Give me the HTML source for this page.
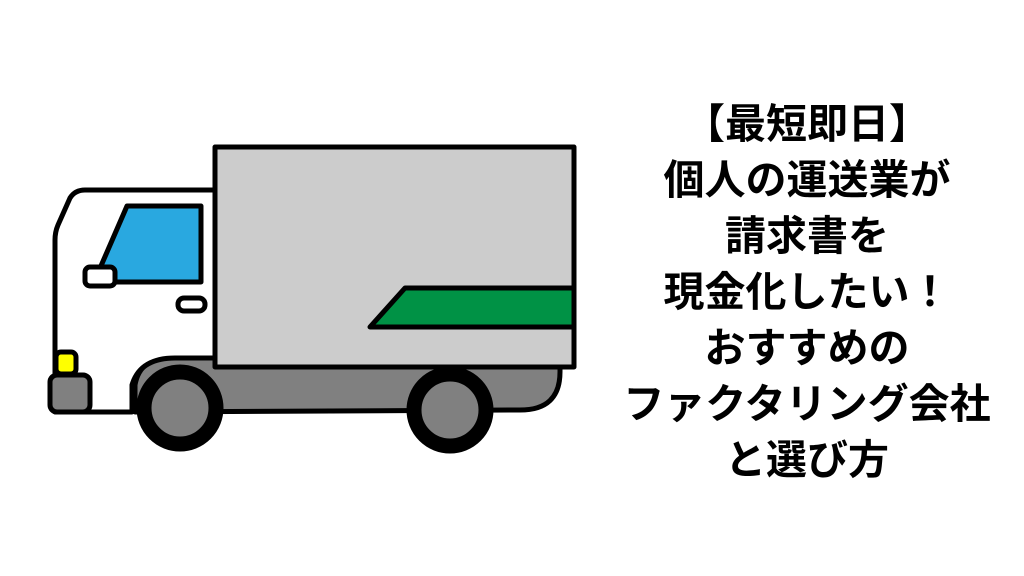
<!DOCTYPE html>
<html><head><meta charset="utf-8"><style>
body{margin:0;width:1024px;height:576px;background:#fff;position:relative;overflow:hidden}
.t{position:absolute;left:557px;width:500px;top:96px;text-align:center;font-family:"Liberation Sans","Noto Sans CJK JP",sans-serif;font-weight:bold;font-size:41px;line-height:56px;color:#000;letter-spacing:0px}
svg{position:absolute;left:0;top:0}
</style></head><body>
<svg width="1024" height="576" viewBox="0 0 1024 576">
<g stroke="#000" stroke-width="5" stroke-linejoin="round">
<path d="M135 412 L135 385 Q140 356 175 356 L560 356 L560 372 Q560 410 520 410 Z" fill="#808080"/>
<path d="M215 190 L85 190 Q75 190 70 198 L58 225 Q55 232 55 240 L55 412 L132 412 L132 385 Q140 358 175 358 L215 358 Z" fill="#fff"/>
<rect x="215" y="147" width="359" height="220" fill="#cccccc"/>
<path d="M370 327 L405 288 L574 288 L574 327 Z" fill="#009245"/>
<path d="M127 206 L201 206 L201 282 L94 282 Z" fill="#29a8e0"/>
<rect x="85" y="267" width="30" height="19" rx="5" fill="#fff"/>
<rect x="178" y="298" width="27" height="13" rx="6" fill="#fff"/>
<rect x="56" y="352" width="20" height="22" rx="5" fill="#ffff00"/>
<rect x="50" y="375" width="40" height="37" rx="7" fill="#808080"/>
</g>
<circle cx="180" cy="408" r="36" fill="#808080" stroke="#000" stroke-width="15"/>
<circle cx="450" cy="410" r="36" fill="#808080" stroke="#000" stroke-width="15"/>
</svg>
<div class="t">【最短即日】<br>個人の運送業が<br>請求書を<br>現金化したい！<br>おすすめの<br>ファクタリング会社<br>と選び方</div>
</body></html>
